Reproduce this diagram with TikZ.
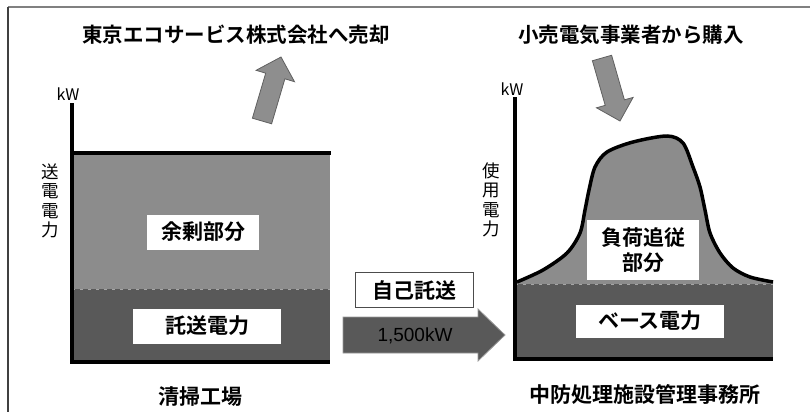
\documentclass[tikz,border=0pt]{standalone}
\usepackage{fontspec}
\setmainfont{Noto Sans CJK JP}[BoldFont={Noto Sans CJK JP Bold}]
\newfontfamily\numfont{Liberation Sans}
\definecolor{lightfill}{HTML}{8C8C8C}
\definecolor{darkfill}{HTML}{595959}
\definecolor{arrowfill}{HTML}{8E8E8E}
\definecolor{arrowedge}{HTML}{606060}
\tikzset{
  axis/.style={line width=3.5pt},
  levelline/.style={black!35, line width=1pt, dash pattern=on 3pt off 5pt},
  labelbox/.style={fill=white, inner sep=0pt, font=\bfseries\fontsize{21}{25}\selectfont},
  heading/.style={font=\bfseries\fontsize{20.5}{24}\selectfont},
  unitlbl/.style={font=\fontsize{16}{18}\selectfont},
  sidelbl/.style={align=center, font=\fontsize{17.5}{19.3}\selectfont},
  fatarrow/.style={fill=arrowfill, draw=arrowedge, line width=0.8pt, line join=miter},
}
\begin{document}
\begin{tikzpicture}[x=1pt, y=-1pt]
  \useasboundingbox (0,0) rectangle (810,412);
  \draw[gray, line width=1.5pt] (8,7) -- (810,7);
  \draw[black!75, line width=1.2pt] (8,7) -- (8,412);

  \fill[lightfill] (72,153) rectangle (330,289);
  \fill[darkfill] (72,289) rectangle (330,362);
  \draw[levelline] (72,289) -- (330,289);
  \draw[axis] (72,153) -- (331,153);
  \draw[axis] (72,103) -- (72,362) -- (330,362);

  \fill[lightfill] plot[smooth] coordinates {(517,282) (543,270) (567,253) (580,233)
    (585,210) (589,190) (595,167) (607,152) (633,142) (667,136) (683,143) (693,167)
    (700,187) (705,210) (710,233) (720,253) (733,268) (750,277) (773,282)}
    -- (773,284) -- (517,284) -- cycle;
  \fill[darkfill] (515,284) rectangle (773,359);
  \draw[levelline] (515,284) -- (773,284);
  \draw[axis] plot[smooth] coordinates {(517,282) (543,270) (567,253) (580,233)
    (585,210) (589,190) (595,167) (607,152) (633,142) (667,136) (683,143) (693,167)
    (700,187) (705,210) (710,233) (720,253) (733,268) (750,277) (773,282)};
  \draw[axis] (515,97) -- (515,359) -- (773,359);

  \draw[fatarrow] (252.4,118.2) -- (265.7,73.2) -- (256.1,70.3) -- (281,57)
    -- (294.5,81.7) -- (284.9,78.8) -- (271.6,123.8) -- cycle;
  \draw[fatarrow] (592.4,60.75) -- (611.6,55.25) -- (624.4,99.85) -- (633.1,97.4)
    -- (620,121) -- (596.5,107.8) -- (605.2,105.35) -- cycle;
  \draw[fatarrow, fill=darkfill, draw=black!40] (343,317) -- (478,317) -- (478,309)
    -- (505,335) -- (478,361) -- (478,353) -- (343,353) -- cycle;

  \node[heading] (selltitle) at (236,35) {東京エコサービス株式会社へ売却};
  \node[heading] (buytitle) at (631,35) {小売電気事業者から購入};
  \node[unitlbl] (lkw) at (68,94) {kW};
  \node[unitlbl] (rkw) at (512,89) {kW};
  \node[sidelbl] (lside) at (50,201) {送\\電\\電\\力};
  \node[sidelbl] (rside) at (491,200) {使\\用\\電\\力};
  \node[labelbox, minimum width=112, minimum height=35] (surplus) at (203,232) {余剰部分};
  \node[labelbox, minimum width=148, minimum height=35] (transfer) at (207,326) {託送電力};
  \node[labelbox, draw=black!70, line width=0.8pt, minimum width=118, minimum height=35]
    (selftrans) at (414,290) {自己託送};
  \node[font=\numfont\fontsize{19}{22}\selectfont] (rate) at (415,336) {1,500kW};
  \node[labelbox, align=center, minimum width=112, minimum height=60] (follow)
    at (643,250) {負荷追従\\部分};
  \node[labelbox, minimum width=148, minimum height=33] (base) at (650,321) {ベース電力};
  \node[heading, font=\bfseries\fontsize{21}{25}\selectfont] (plant) at (200,397) {清掃工場};
  \node[heading, font=\bfseries\fontsize{21}{25}\selectfont] (office) at (645,394)
    {中防処理施設管理事務所};
\end{tikzpicture}
\end{document}
